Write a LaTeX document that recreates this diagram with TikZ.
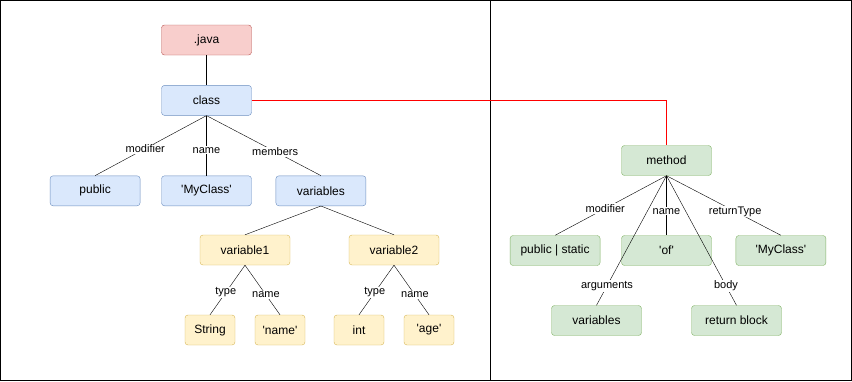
\documentclass[tikz,border=0pt]{standalone}
\usepackage{fontspec}
\setmainfont{Liberation Sans}[Ligatures=TeXOff]
\usetikzlibrary{positioning}
\definecolor{javafill}{HTML}{F8CECC}
\definecolor{javaline}{HTML}{B85450}
\definecolor{clsfill}{HTML}{DAE8FC}
\definecolor{clsline}{HTML}{6C8EBF}
\definecolor{varfill}{HTML}{FFF2CC}
\definecolor{varline}{HTML}{D6B656}
\definecolor{methfill}{HTML}{D5E8D4}
\definecolor{methline}{HTML}{82B366}
\definecolor{linkred}{HTML}{FF0000}

\begin{document}
\begin{tikzpicture}[x=1pt,y=-1pt,node distance=30pt,
    box/.style={shape=rectangle,rounded corners=3pt,minimum width=90pt,minimum height=30pt,inner sep=0pt,font=\fontsize{12}{14}\selectfont},
    javabox/.style={box,fill=javafill,draw=javaline},
    clsbox/.style={box,fill=clsfill,draw=clsline},
    varbox/.style={box,fill=varfill,draw=varline},
    smallbox/.style={varbox,minimum width=50pt},
    methbox/.style={box,fill=methfill,draw=methline},
    lbl/.style={fill=white,inner sep=1pt,font=\fontsize{11}{13}\selectfont}]
    \useasboundingbox (0,0) rectangle (852,381);
    \draw[line width=1pt] (0.5,0.5) rectangle (851.5,380.5);
    \draw[line width=1pt] (490,0.5) -- (490,380.5);
    %
    \node[javabox] (java) at (206.5,40) {.java};
    \node[clsbox, below=of java] (cls) {class};
    \node[clsbox, below=60pt of cls] (clsname) {'MyClass'};
    \node[clsbox, left=21pt of clsname] (pub) {public};
    \node[clsbox, right=24pt of clsname] (vars) {variables};
    \node[varbox] (var1) at (245,250) {variable1};
    \node[varbox] (var2) at (394,250) {variable2};
    \node[smallbox] (type1) at (210,330) {String};
    \node[smallbox] (name1) at (280,330) {'name'};
    \node[smallbox] (type2) at (359,330) {int};
    \node[smallbox] (name2) at (429,330) {'age'};
    %
    \node[methbox] (meth) at (666.5,160.5) {method};
    \node[methbox] (mname) at (666.5,250.5) {'of'};
    \node[methbox, left=21pt of mname] (mmod) {public | static};
    \node[methbox, right=24pt of mname] (mret) {'MyClass'};
    \node[methbox] (margs) at (596.5,320.5) {variables};
    \node[methbox] (mbody) at (736.5,320.5) {return block};
    %
    \draw (java) -- (cls);
    \draw (cls.south) -- node[lbl,pos=0.55]{modifier} (pub.north);
    \draw (cls.south) -- node[lbl,pos=0.58]{name} (clsname.north);
    \draw (cls.south) -- node[lbl,pos=0.6]{members} (vars.north);
    \draw (vars.south) -- (var1.north);
    \draw (vars.south) -- (var2.north);
    \draw (var1.south) -- node[lbl,pos=0.55]{type} (type1.north);
    \draw (var1.south) -- node[lbl,pos=0.6]{name} (name1.north);
    \draw (var2.south) -- node[lbl,pos=0.55]{type} (type2.north);
    \draw (var2.south) -- node[lbl,pos=0.6]{name} (name2.north);
    %
    \draw (meth.south) -- node[lbl,pos=0.55]{modifier} (mmod.north);
    \draw (meth.south) -- node[lbl,pos=0.6]{name} (mname.north);
    \draw (meth.south) -- node[lbl,pos=0.6]{returnType} (mret.north);
    \draw (meth.south) -- node[lbl,pos=0.85]{arguments} (margs.north);
    \draw (meth.south) -- node[lbl,pos=0.85]{body} (mbody.north);
    %
    \draw[linkred] (cls.east) -| (meth.north);
\end{tikzpicture}
\end{document}
